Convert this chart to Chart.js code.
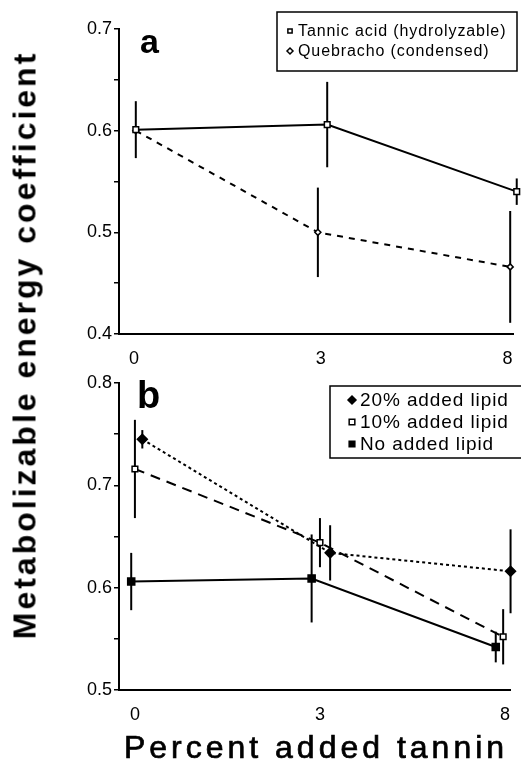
<!DOCTYPE html>
<html>
<head>
<meta charset="utf-8">
<script src="https://cdn.jsdelivr.net/npm/chart.js@4/dist/chart.umd.min.js"></script>
<style>
  body { margin:0; background:#fff; width:521px; height:774px; overflow:hidden; position:relative;
         font-family:"Liberation Sans", Arial, sans-serif; color:#000; }
  #wa { position:absolute; left:0; top:0; width:521px; height:370px; }
  #wb { position:absolute; left:0; top:370px; width:521px; height:404px; }
  #ytitle { position:absolute; left:25px; top:345px; transform:translate(-50%,-50%) rotate(-90deg);
            white-space:nowrap; font-weight:bold; font-size:32px; letter-spacing:3px; }
  #xtitle { position:absolute; left:316px; top:747px; transform:translate(-50%,-50%);
            white-space:nowrap; font-size:32px; letter-spacing:4px; -webkit-text-stroke:0.7px #000; }
</style>
</head>
<body>
<div id="wa"><canvas id="ca"></canvas></div>
<div id="wb"><canvas id="cb"></canvas></div>
<div id="ytitle">Metabolizable energy coefficient</div>
<div id="xtitle">Percent added tannin</div>
<script>
// tannin levels (equally spaced categories on the axis)
var tannin = ['0', '3', '8'];

// panel a
var tannicPos = [0.01, 1.035, 2.05];
var tannicVal = [0.601, 0.606, 0.540];
var tannicErr = [0.028, 0.042, 0.013];
var quebPos = [0.01, 0.985, 2.015];
var quebVal = [0.600, 0.500, 0.466];
var quebErr = [0.000, 0.044, 0.055];

// panel b
var lip20Pos = [0.04, 1.055, 2.03];
var lip20Val = [0.745, 0.634, 0.616];
var lip20Err = [0.009, 0.027, 0.041];
var lip10Pos = [0.0, 1.0, 1.99];
var lip10Val = [0.716, 0.644, 0.552];
var lip10Err = [0.048, 0.024, 0.027];
var lip0Pos = [-0.02, 0.955, 1.95];
var lip0Val = [0.606, 0.609, 0.542];
var lip0Err = [0.028, 0.043, 0.015];

function pts(pos, val) {
  return pos.map(function(p, i) { return {x: p, y: val[i]}; });
}

var errorBars = {
  id: 'errorBars',
  beforeDatasetsDraw: function(chart) {
    var ctx = chart.ctx, y = chart.scales.y;
    chart.data.datasets.forEach(function(ds, i) {
      var meta = chart.getDatasetMeta(i);
      meta.data.forEach(function(pt, j) {
        var e = ds.err[j];
        if (!e) return;
        var v = ds.data[j].y;
        ctx.save();
        ctx.strokeStyle = '#000';
        ctx.lineWidth = 2;
        ctx.beginPath();
        ctx.moveTo(pt.x, y.getPixelForValue(v + e));
        ctx.lineTo(pt.x, y.getPixelForValue(v - e));
        ctx.stroke();
        ctx.restore();
      });
    });
  }
};

// boxed legend + panel letter
var boxLegend = {
  id: 'boxLegend',
  afterDraw: function(chart, args, o) {
    var ctx = chart.ctx;
    ctx.save();
    ctx.fillStyle = '#000';
    ctx.font = 'bold ' + o.letterSize + 'px "Liberation Sans", Arial, sans-serif';
    ctx.textBaseline = 'alphabetic';
    ctx.fillText(o.letter, o.letterX, o.letterY);

    ctx.fillStyle = '#fff';
    ctx.fillRect(o.x, o.y, o.w, o.h);
    ctx.strokeStyle = '#000';
    ctx.lineWidth = 1.5;
    ctx.strokeRect(o.x, o.y, o.w, o.h);
    ctx.font = o.fontSize + 'px "Liberation Sans", Arial, sans-serif';
    ctx.letterSpacing = o.spacing + 'px';
    ctx.textBaseline = 'middle';
    chart.data.datasets.forEach(function(ds, i) {
      var yy = o.y + o.first + i * o.row;
      ctx.fillStyle = ds.pointBackgroundColor;
      ctx.strokeStyle = '#000';
      ctx.lineWidth = 1.5;
      Chart.helpers.drawPoint(ctx, {
        pointStyle: ds.pointStyle, radius: o.markR, rotation: 0, borderWidth: 1.5
      }, o.x + o.markX, yy);
      ctx.fillStyle = '#000';
      ctx.fillText(ds.label, o.x + o.textX, yy + 1);
    });
    ctx.restore();
  }
};

function axes(min, max, yMin, yMax, xh) {
  return {
    x: {
      type: 'linear', min: min, max: max,
      afterFit: function(s) { s.height = xh; },
      afterBuildTicks: function(s) { s.ticks = [0, 1, 2].map(function(v) { return {value: v}; }); },
      grid: { display: false },
      border: { display: true, color: '#000', width: 2 },
      ticks: {
        autoSkip: false, padding: 6, color: '#000',
        font: { size: 18, family: '"Liberation Sans", Arial, sans-serif' },
        callback: function(v) { return tannin[v]; }
      }
    },
    y: {
      min: yMin, max: yMax,
      afterFit: function(s) { s.width = 119; },
      grid: { drawOnChartArea: false, color: '#000', lineWidth: 1.5, tickLength: 5 },
      border: { display: true, color: '#000', width: 2 },
      ticks: {
        stepSize: 0.05, autoSkip: false, padding: 2, color: '#000',
        font: { size: 18, family: '"Liberation Sans", Arial, sans-serif' },
        callback: function(v) {
          return Math.abs(v * 10 - Math.round(v * 10)) < 1e-6 ? v.toFixed(1) : '';
        }
      }
    }
  };
}

function line(label, pos, val, err, style, fill, r, dash) {
  return {
    label: label, data: pts(pos, val), err: err,
    borderColor: '#000', borderWidth: 2, borderDash: dash,
    pointStyle: style, pointRadius: r, pointBackgroundColor: fill,
    pointBorderColor: '#000', pointBorderWidth: 1.5, clip: false, showLine: true
  };
}

new Chart(document.getElementById('ca'), {
  type: 'scatter',
  data: {
    datasets: [
      line('Tannic acid (hydrolyzable)', tannicPos, tannicVal, tannicErr, 'rect', '#fff', 4, []),
      line('Quebracho (condensed)', quebPos, quebVal, quebErr, 'rectRot', '#fff', 3, [6, 6])
    ]
  },
  options: {
    responsive: true, maintainAspectRatio: false, animation: false,
    layout: { padding: { top: 29, right: 8, bottom: 0, left: 0 } },
    scales: axes(-0.08, 2.03, 0.4, 0.7, 36),
    plugins: {
      legend: { display: false }, tooltip: { enabled: false },
      boxLegend: {
        letter: 'a', letterX: 140, letterY: 53, letterSize: 34,
        x: 277, y: 12, w: 240, h: 59, first: 19, row: 20,
        fontSize: 16, spacing: 0.9, markX: 13, markR: 3, textX: 21
      }
    }
  },
  plugins: [errorBars, boxLegend]
});

new Chart(document.getElementById('cb'), {
  type: 'scatter',
  data: {
    datasets: [
      line('20% added lipid', lip20Pos, lip20Val, lip20Err, 'rectRot', '#000', 5, [3, 3]),
      line('10% added lipid', lip10Pos, lip10Val, lip10Err, 'rect', '#fff', 4, [10, 7]),
      line('No added lipid', lip0Pos, lip0Val, lip0Err, 'rect', '#000', 5, [])
    ]
  },
  options: {
    responsive: true, maintainAspectRatio: false, animation: false,
    layout: { padding: { top: 13, right: 11, bottom: 0, left: 0 } },
    scales: axes(-0.086, 2.027, 0.5, 0.8, 84),
    plugins: {
      legend: { display: false }, tooltip: { enabled: false },
      boxLegend: {
        letter: 'b', letterX: 137, letterY: 38, letterSize: 38,
        x: 330, y: 16, w: 195, h: 72, first: 14, row: 22,
        fontSize: 19, spacing: 0.9, markX: 22, markR: 4, textX: 30
      }
    }
  },
  plugins: [errorBars, boxLegend]
});
</script>
</body>
</html>
